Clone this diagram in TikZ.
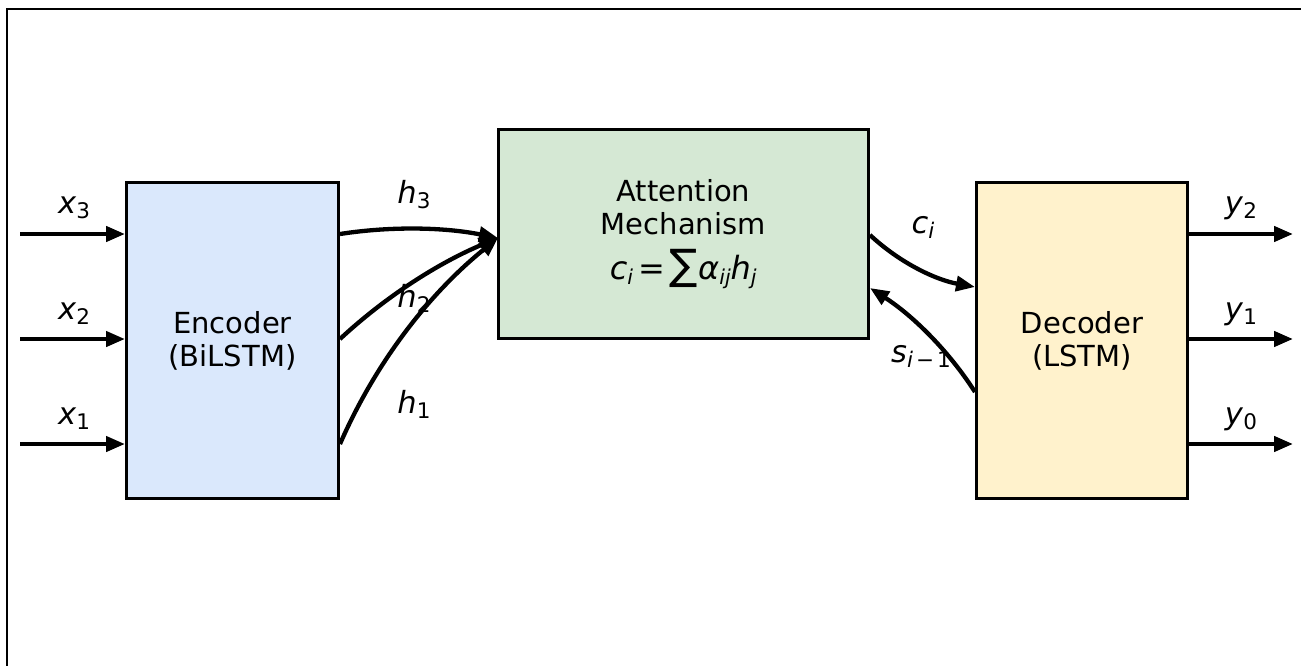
\documentclass[tikz,border=0pt]{standalone}
\usepackage{fontspec}
\setmainfont{DejaVu Sans}
\usetikzlibrary{arrows.meta,calc}
\definecolor{encfill}{HTML}{DAE8FC}
\definecolor{attfill}{HTML}{D5E8D4}
\definecolor{decfill}{HTML}{FFF2CC}
\newcommand{\lsub}[1]{\raisebox{-5.5pt}{\fontsize{21.5}{21.5}\selectfont #1}}
\newcommand{\fsub}[1]{\raisebox{-5pt}{\fontsize{20.5}{20.5}\selectfont #1}}
\begin{document}
\begin{tikzpicture}[x=1pt,y=-1pt,
  box/.style={draw=black,line width=3pt,rectangle,inner sep=0pt,align=center,
    font=\fontsize{29}{33}\selectfont},
  lbl/.style={inner sep=0pt,anchor=base,font=\fontsize{30.5}{36}\selectfont},
  arr/.style={line width=4.3pt,-{Triangle[length=19pt,width=15pt]}}]
\useasboundingbox (0,0) rectangle (1301,666);
\draw[line width=2pt] (6.5,666) -- (6.5,9.5) -- (1301,9.5);

\node[box,fill=encfill,minimum width=212pt,minimum height=316pt] (enc) at (232.5,340.5)
  {Encoder\\(BiLSTM)};
\node[box,fill=attfill,minimum width=370.5pt,minimum height=209pt] (att) at (683.25,234)
  {Attention\\Mechanism\\[12pt]\fontsize{32}{36}\selectfont\textit{c}\fsub{\textit{i}}\hspace{5pt}=\hspace{5pt}{\fontsize{42}{42}\selectfont ∑}\textit{α}\fsub{\textit{ij}}\textit{h}\fsub{\textit{j}}};
\node[box,fill=decfill,minimum width=211pt,minimum height=316pt] (dec) at (1082,340.5)
  {Decoder\\(LSTM)};

\coordinate (row3) at (0,234);
\coordinate (row2) at (0,339);
\coordinate (row1) at (0,444);
\coordinate (in3) at (20,234);
\coordinate (in2) at (20,339);
\coordinate (in1) at (20,444);
\coordinate (out2) at (1293,234);
\coordinate (out1) at (1293,339);
\coordinate (out0) at (1293,444);

% inputs
\draw[arr] (in3) -- (in3 -| enc.west);
\draw[arr] (in2) -- (in2 -| enc.west);
\draw[arr] (in1) -- (in1 -| enc.west);
\node[lbl] (lx3) at (74,213) {\textit{x}\lsub{3}};
\node[lbl] (lx2) at (74,319) {\textit{x}\lsub{2}};
\node[lbl] (lx1) at (74,424) {\textit{x}\lsub{1}};

% outputs
\draw[arr] (dec.east |- out2) -- (out2);
\draw[arr] (dec.east |- out1) -- (out1);
\draw[arr] (dec.east |- out0) -- (out0);
\node[lbl] (ly2) at (1241,213) {\textit{y}\lsub{2}};
\node[lbl] (ly1) at (1241,319) {\textit{y}\lsub{1}};
\node[lbl] (ly0) at (1241,424) {\textit{y}\lsub{0}};

% encoder -> attention
\coordinate (attin) at (498,238);
\draw[arr] (enc.east |- row3) .. controls (391.5,226) and (444.7,227.3) .. (attin);
\draw[arr] (enc.east |- row2) .. controls (385.9,296.3) and (439,262.7) .. (attin);
\draw[arr] (enc.east |- row1) .. controls (375.5,362.7) and (428.7,294) .. (attin);
\node[lbl] (lh3) at (414,203) {\textit{h}\lsub{3}};
\node[lbl] (lh2) at (414,307) {\textit{h}\lsub{2}};
\node[lbl] (lh1) at (414,413) {\textit{h}\lsub{1}};

% attention <-> decoder
\coordinate (ca) at (0,235);
\coordinate (cd) at (0,287);
\coordinate (sd) at (0,392);
\coordinate (sa) at (0,288);
\draw[arr] (att.east |- ca) .. controls (899.1,262.3) and (935.1,279.7) .. (dec.west |- cd);
\draw[arr] (dec.west |- sd) .. controls (947.8,349.6) and (911.8,314.9) .. (att.east |- sa);
\node[lbl] (lc) at (923,233) {\textit{c}\lsub{\textit{i}}};
\node[lbl] (ls) at (921,362) {\textit{s}\lsub{\textit{i}\hspace{3pt}−\hspace{3pt}1}};
\end{tikzpicture}
\end{document}
